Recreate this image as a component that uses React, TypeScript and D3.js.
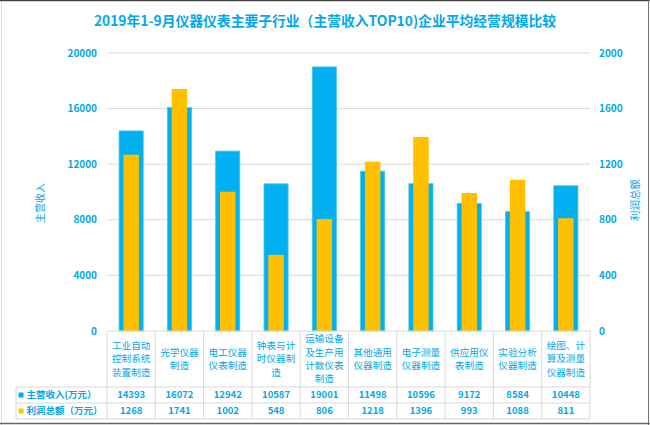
import React, { useEffect } from "react";
import * as d3 from "d3";

// chart data
const categories = [
  "工业自动控制系统装置制造",
  "光学仪器制造",
  "电工仪器仪表制造",
  "钟表与计时仪器制造",
  "运输设备及生产用计数仪表制造",
  "其他通用仪器制造",
  "电子测量仪器制造",
  "供应用仪表制造",
  "实验分析仪器制造",
  "绘图、计算及测量仪器制造",
];
// category labels as they wrap in the table
const categoryLines = [
  ["工业自动", "控制系统", "装置制造"],
  ["光学仪器", "制造"],
  ["电工仪器", "仪表制造"],
  ["钟表与计", "时仪器制", "造"],
  ["运输设备", "及生产用", "计数仪表", "制造"],
  ["其他通用", "仪器制造"],
  ["电子测量", "仪器制造"],
  ["供应用仪", "表制造"],
  ["实验分析", "仪器制造"],
  ["绘图、计", "算及测量", "仪器制造"],
];
const revenue = [14393, 16072, 12942, 10587, 19001, 11498, 10596, 9172, 8584, 10448];
const profit = [1268, 1741, 1002, 548, 806, 1218, 1396, 993, 1088, 811];
const leftTicks = [0, 4000, 8000, 12000, 16000, 20000];
const rightTicks = [0, 400, 800, 1200, 1600, 2000];

const W = 650;
const H = 425;
const BLUE = "#00B0F0";
const YELLOW = "#FFC000";
const TEXT = "#00A8EC";
const GRID = "#d9d9d9";
const FONT = "'Noto Sans CJK SC', 'Noto Sans', sans-serif";

const App: React.FC = () => {
  useEffect(() => {
    document.body.style.margin = "0";
  }, []);

  const plot = { left: 107, right: 590, top: 53, bottom: 331 };
  const x = d3
    .scaleBand<string>()
    .domain(categories)
    .range([plot.left, plot.right])
    .padding(0);
  const yL = d3.scaleLinear().domain([0, 20000]).range([plot.bottom, plot.top]);
  const yR = d3.scaleLinear().domain([0, 2000]).range([plot.bottom, plot.top]);
  const bw = x.bandwidth();
  const blueW = bw * 0.5;
  const yellowW = bw * 0.32;

  // table rows
  const rowCat = 387;
  const row1 = 403;
  const row2 = 419;
  const tableLeft = 16;

  return (
    <svg
      width={W}
      height={H}
      style={{ display: "block", background: "#fff" }}
      fontFamily={FONT}
    >
      <rect x={0} y={0} width={W} height={H} fill="#fff" />

      {/* title */}
      <text
        x={W / 2}
        y={26}
        textAnchor="middle"
        fill={TEXT}
        fontSize={13.8}
        fontWeight="bold"
      >
        2019年1-9月仪器仪表主要子行业（主营收入TOP10)企业平均经营规模比较
      </text>

      {/* gridlines */}
      {leftTicks
        .filter((t) => t > 0)
        .map((t) => (
          <line
            key={t}
            x1={plot.left}
            x2={plot.right}
            y1={yL(t)}
            y2={yL(t)}
            stroke={GRID}
            strokeWidth={1}
          />
        ))}

      {/* left ticks */}
      {leftTicks.map((t) => (
        <text
          key={t}
          x={97}
          y={yL(t)}
          dy="0.35em"
          textAnchor="end"
          fill={TEXT}
          fontSize={10}
          fontWeight="bold"
        >
          {t}
        </text>
      ))}
      {/* right ticks */}
      {rightTicks.map((t) => (
        <text
          key={t}
          x={599}
          y={yR(t)}
          dy="0.35em"
          textAnchor="start"
          fill={TEXT}
          fontSize={10}
          fontWeight="bold"
        >
          {t}
        </text>
      ))}

      {/* axis titles */}
      <text
        transform={`translate(40, 203) rotate(-90)`}
        textAnchor="middle"
        dy="0.35em"
        fill={TEXT}
        fontSize={10}
      >
        主营收入
      </text>
      <text
        transform={`translate(635, 200) rotate(-90)`}
        textAnchor="middle"
        dy="0.35em"
        fill={TEXT}
        fontSize={10.5}
      >
        利润总额
      </text>

      {/* bars */}
      {categories.map((c, i) => {
        const cx = (x(c) as number) + bw / 2;
        return (
          <g key={c}>
            <rect
              x={cx - blueW / 2}
              y={yL(revenue[i])}
              width={blueW}
              height={plot.bottom - yL(revenue[i])}
              fill={BLUE}
              stroke="#4cc9d6"
              strokeWidth={0.8}
            />
            <rect
              x={cx - yellowW / 2}
              y={yR(profit[i])}
              width={yellowW}
              height={plot.bottom - yR(profit[i])}
              fill={YELLOW}
            />
          </g>
        );
      })}

      {/* data table */}
      <g stroke={GRID} strokeWidth={1} fill="none">
        <line x1={plot.left} x2={plot.right} y1={plot.bottom} y2={plot.bottom} />
        <line x1={tableLeft} x2={plot.right} y1={rowCat} y2={rowCat} />
        <line x1={tableLeft} x2={plot.right} y1={row1} y2={row1} />
        <line x1={tableLeft} x2={plot.right} y1={row2} y2={row2} />
        <line x1={tableLeft} x2={tableLeft} y1={rowCat} y2={row2} />
        {categories.map((c) => (
          <line
            key={c}
            x1={x(c) as number}
            x2={x(c) as number}
            y1={plot.bottom}
            y2={row2}
          />
        ))}
        <line x1={plot.right} x2={plot.right} y1={plot.bottom} y2={row2} />
      </g>

      {categories.map((c, i) => {
        const cx = (x(c) as number) + bw / 2;
        const lines = categoryLines[i];
        const lh = 13.3;
        const mid = (plot.bottom + rowCat) / 2;
        const start = mid - ((lines.length - 1) * lh) / 2;
        return (
          <g key={c}>
            {lines.map((l, j) => (
              <text
                key={j}
                x={cx}
                y={start + j * lh}
                dy="0.35em"
                textAnchor="middle"
                fill={TEXT}
                fontSize={9.6}
              >
                {l}
              </text>
            ))}
            <text
              x={cx}
              y={(rowCat + row1) / 2}
              dy="0.35em"
              textAnchor="middle"
              fill={TEXT}
              fontSize={9.5}
              fontWeight="bold"
            >
              {revenue[i]}
            </text>
            <text
              x={cx}
              y={(row1 + row2) / 2}
              dy="0.35em"
              textAnchor="middle"
              fill={TEXT}
              fontSize={9.5}
              fontWeight="bold"
            >
              {profit[i]}
            </text>
          </g>
        );
      })}

      {/* legend keys in table */}
      <rect x={18.5} y={(rowCat + row1) / 2 - 2.5} width={5} height={5} fill={BLUE} />
      <text
        x={26.5}
        y={(rowCat + row1) / 2}
        dy="0.35em"
        fill={TEXT}
        fontSize={9.5}
        fontWeight="bold"
      >
        主营收入(万元）
      </text>
      <rect x={18.5} y={(row1 + row2) / 2 - 2.5} width={5} height={5} fill={YELLOW} />
      <text
        x={26.5}
        y={(row1 + row2) / 2}
        dy="0.35em"
        fill={TEXT}
        fontSize={9.5}
        fontWeight="bold"
      >
        利润总额（万元）
      </text>

      {/* outer frame */}
      <line x1={1.5} x2={1.5} y1={0} y2={H} stroke="#e0e0e0" strokeWidth={1} />
      <line x1={0} x2={W} y1={0.5} y2={0.5} stroke="#444" strokeWidth={1.5} />
      <line x1={648.5} x2={648.5} y1={0} y2={H} stroke="#777" strokeWidth={1} />
      <line x1={0} x2={W} y1={423.5} y2={423.5} stroke="#666" strokeWidth={1.5} />
    </svg>
  );
};

export default App;
